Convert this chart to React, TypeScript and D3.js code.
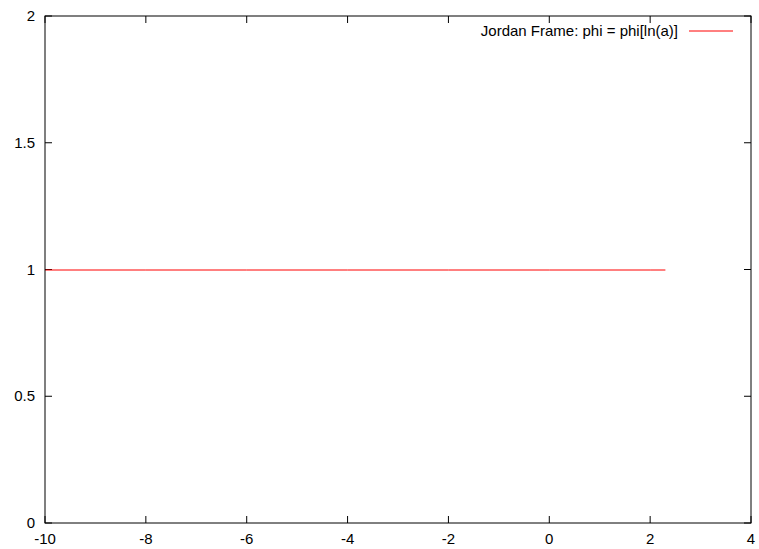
import React from "react";
import * as d3 from "d3";

// Scalar field phi as a function of ln(a) in the Jordan frame
const lnA = [-10, -8, -6, -4, -2, 0, 2, 2.3026];
const phi = [1, 1, 1, 1, 1, 1, 1, 1];
const xTicks = [-10, -8, -6, -4, -2, 0, 2, 4];
const yTicks = [0, 0.5, 1, 1.5, 2];
const seriesLabel = "Jordan Frame: phi = phi[ln(a)]";

const W = 759;
const H = 549;
const M = { left: 45, right: 751, top: 16, bottom: 523 };
const TICK = 7;
const FONT = "'Liberation Sans', Arial, Helvetica, sans-serif";

export default function App() {
  const x = d3.scaleLinear().domain([-10, 4]).range([M.left, M.right]);
  const y = d3.scaleLinear().domain([0, 2]).range([M.bottom, M.top]);
  const pts = lnA.map((v, i) => [v, phi[i]] as [number, number]);
  const line = d3
    .line<[number, number]>()
    .x((d) => x(d[0]))
    .y((d) => y(d[1]));

  return (
    <svg
      width={W}
      height={H}
      style={{ position: "absolute", left: 0, top: 0, background: "#fff" }}
      fontFamily={FONT}
      fontSize={15}
    >
      <rect x={0} y={0} width={W} height={H} fill="#fff" />
      {xTicks.map((t) => (
        <g key={"x" + t}>
          <line x1={x(t)} x2={x(t)} y1={M.bottom} y2={M.bottom - TICK} stroke="#000" />
          <line x1={x(t)} x2={x(t)} y1={M.top} y2={M.top + TICK} stroke="#000" />
          <text x={x(t)} y={M.bottom + 21} textAnchor="middle" fill="#000">
            {t}
          </text>
        </g>
      ))}
      {yTicks.map((t) => (
        <g key={"y" + t}>
          <line x1={M.left} x2={M.left + TICK} y1={y(t)} y2={y(t)} stroke="#000" />
          <line x1={M.right} x2={M.right - TICK} y1={y(t)} y2={y(t)} stroke="#000" />
          <text x={M.left - 10} y={y(t) + 5} textAnchor="end" fill="#000">
            {t}
          </text>
        </g>
      ))}
      <path
        d={line(pts) ?? ""}
        transform="translate(0,0.5)"
        fill="none"
        stroke="#ff0000"
        strokeWidth={1}
      />
      <rect
        x={M.left}
        y={M.top}
        width={M.right - M.left}
        height={M.bottom - M.top}
        fill="none"
        stroke="#000"
        strokeWidth={1}
      />
      <g>
        <text x={678} y={36} textAnchor="end" fill="#000">
          {seriesLabel}
        </text>
        <line x1={689} x2={733} y1={31} y2={31} stroke="#ff0000" strokeWidth={1} />
      </g>
    </svg>
  );
}
